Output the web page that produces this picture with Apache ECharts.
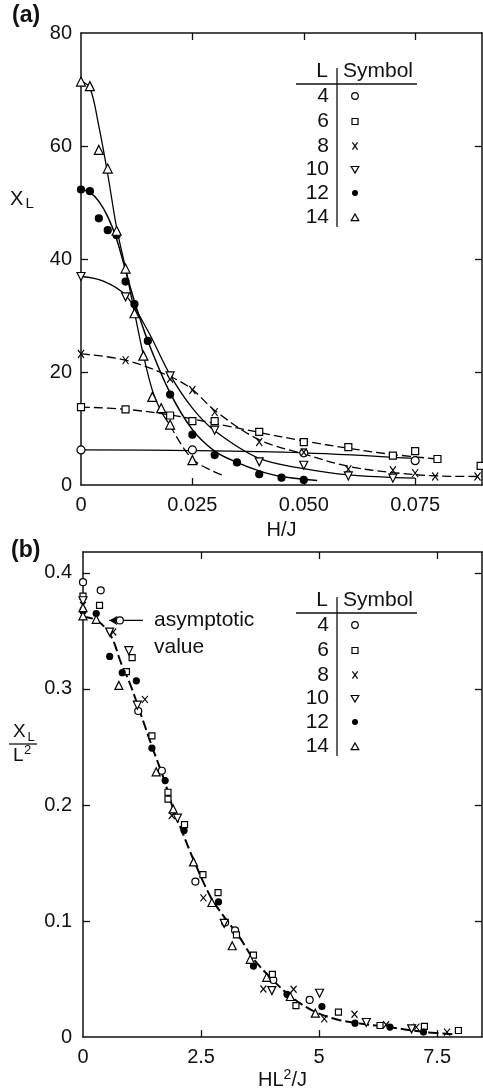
<!DOCTYPE html>
<html><head><meta charset="utf-8">
<script src="https://cdn.jsdelivr.net/npm/echarts@6/dist/echarts.min.js"></script>
<style>html,body{margin:0;padding:0;background:#fff}#c{width:483px;height:1091px}</style>
</head><body><div id="c"></div>
<script>
// ---------------- Panel (a): X_L vs H/J ----------------
const aL4  = [[0,6.2],[0.025,6.2],[0.05,5.7],[0.075,4.3]];
const aL6  = [[0,13.8],[0.01,13.4],[0.02,12.3],[0.025,11.3],[0.03,11.3],[0.04,9.4],[0.05,7.6],[0.06,6.7],[0.07,5.2],[0.075,6.0],[0.08,4.6],[0.0897,3.4]];
const aL8  = [[0,23.2],[0.01,22.1],[0.02,18.8],[0.025,16.8],[0.03,12.9],[0.04,7.6],[0.05,5.8],[0.06,2.8],[0.07,2.6],[0.075,2.1],[0.0795,1.5],[0.089,1.5]];
const aL10 = [[0,36.9],[0.01,33.3],[0.02,19.3],[0.03,9.7],[0.04,4.1],[0.05,3.5],[0.06,1.6],[0.07,1.2]];
const aL12 = [[0,52.3],[0.002,52.0],[0.004,47.2],[0.006,45.1],[0.008,44.2],[0.010,36.0],[0.012,32.0],[0.015,25.5],[0.02,16.0],[0.025,8.9],[0.03,5.3],[0.035,4.0],[0.04,1.9],[0.045,1.3],[0.05,0.9]];
const aL14 = [[0,71.4],[0.002,70.6],[0.004,59.3],[0.006,56.0],[0.008,45.0],[0.010,38.3],[0.012,30.4],[0.014,22.9],[0.016,15.6],[0.018,13.6],[0.02,10.7],[0.025,4.4]];

// fitted curves
const fitA4   = [[0,6.2],[0.025,6.1],[0.05,5.7],[0.075,4.7]];
const fitA6   = [[0,13.8],[0.01,13.4],[0.02,12.4],[0.03,10.9],[0.04,9.3],[0.05,7.8],[0.06,6.5],[0.07,5.4],[0.08,4.6]];
const fitA8   = [[0,23.2],[0.01,22.1],[0.02,19.2],[0.025,16.9],[0.03,13.2],[0.04,8.0],[0.05,5.5],[0.06,3.3],[0.07,2.2],[0.08,1.6],[0.09,1.5]];
const fitA10  = [[0,36.9],[0.005,36.1],[0.01,33.6],[0.015,27.3],[0.02,19.5],[0.025,13.6],[0.03,9.6],[0.04,4.7],[0.05,2.9],[0.06,1.8],[0.075,1.2]];
const fitA12  = [[0,52.3],[0.002,51.8],[0.004,50.2],[0.006,47.5],[0.008,43.5],[0.010,38.0],[0.012,32.5],[0.015,25.5],[0.02,16.3],[0.025,9.8],[0.03,6.0],[0.035,4.0],[0.04,2.5],[0.045,1.5],[0.053,0.8]];
const fitA14  = [[0,71.5],[0.002,70.3],[0.004,63.5],[0.006,55.0],[0.008,45.5],[0.010,38.3],[0.012,30.6],[0.014,23.0],[0.016,16.8],[0.018,13.0],[0.020,10.6]];
const fitA14t = [[0.020,10.6],[0.025,4.6],[0.0316,1.8]];

const aXTicks = [0.025,0.05,0.075];
const aXLabels = [0,0.025,0.05,0.075];
const aYTicks = [20,40,60];
const aYLabels = [0,20,40,60,80];

// ---------------- Panel (b): X_L/L^2 vs HL^2/J ----------------
const bL4  = [[0,0.392],[0.375,0.385],[0.78,0.359],[1.17,0.281],[1.67,0.2295],[2.38,0.134],[3.01,0.0987],[3.22,0.092],[4.03,0.0492],[4.80,0.032]];
const bL6  = [[0,0.380],[0.35,0.372],[1.04,0.327],[0.92,0.315],[1.46,0.2595],[1.80,0.211],[1.80,0.205],[2.15,0.183],[2.54,0.140],[2.86,0.1245],[3.25,0.088],[3.61,0.0707],[4.01,0.054],[4.51,0.0272],[5.41,0.0215],[6.29,0.010],[7.23,0.0092],[7.95,0.0057]];
const bL8  = [[0,0.372],[0.64,0.349],[1.31,0.291],[1.88,0.191],[2.55,0.120],[3.82,0.0415],[4.46,0.0412],[5.11,0.0157],[5.75,0.0197],[6.42,0.0106],[7.06,0.0086],[7.71,0.0043]];
const bL10 = [[0,0.376],[0.565,0.349],[0.97,0.333],[1.15,0.286],[2.0,0.1886],[2.99,0.098],[4.0,0.0401],[5.01,0.0378],[6.0,0.0126],[6.96,0.0071]];
const bL12 = [[0,0.367],[0.28,0.365],[0.565,0.328],[0.83,0.314],[1.13,0.307],[1.46,0.249],[1.74,0.221],[2.14,0.178],[2.87,0.1165],[3.61,0.0612],[4.32,0.0369],[5.06,0.0263],[5.76,0.012],[6.5,0.0086],[7.21,0.0043]];
const bL14 = [[0,0.370],[0,0.363],[0.28,0.360],[0.76,0.303],[1.55,0.2286],[1.91,0.1966],[2.34,0.151],[2.73,0.116],[3.16,0.0787],[3.54,0.067],[3.89,0.0515],[4.39,0.035],[4.92,0.0206]];
const fitB = [[0,0.362],[0.3,0.359],[0.6,0.345],[0.8,0.323],[1.0,0.304],[1.2,0.281],[1.5,0.246],[1.7,0.224],[1.9,0.198],[2.1,0.177],[2.35,0.152],[2.7,0.121],[3.0,0.103],[3.3,0.087],[3.6,0.068],[4.0,0.050],[4.4,0.035],[4.9,0.022],[5.4,0.015],[5.9,0.0115],[6.5,0.0085],[7.2,0.0045],[7.9,0.0022]];
const asymArrow = [[1.27,0.359],[0.56,0.359]];

const bXTicks = [2.5,5,7.5];
const bXLabels = [0,2.5,5,7.5];
const bYTicks = [0.1,0.2,0.3,0.4];
const bYLabels = [0,0.1,0.2,0.3,0.4];

const legendL = ['4','6','8','10','12','14'];

// ---------------- rendering ----------------
const FONT = '"Liberation Sans", Arial, Helvetica, sans-serif';
const BLACK = '#111';
const chart = echarts.init(document.getElementById('c'));

const X_PATH = 'path://M0,0L10,13M10,0L0,13';
const mk = {
  4:  {symbol:'circle', color:'#fff', a:8, b:7},
  6:  {symbol:'rect', color:'#fff', a:7, b:6},
  8:  {symbol:X_PATH, color:'none', a:[6,8], b:[6,7]},
  10: {symbol:'triangle', rot:180, color:'#fff', a:8, b:8},
  12: {symbol:'circle', color:'#000', a:7, b:6},
  14: {symbol:'triangle', color:'#fff', a:9, b:8}
};
function scatter(data, L, panel) {
  const m = mk[L];
  const ax = panel === 'a' ? 0 : 2;
  return {type:'scatter', xAxisIndex:ax, yAxisIndex:ax, data, symbol:m.symbol,
    symbolSize: panel === 'a' ? m.a : m.b, symbolRotate: m.rot || 0,
    itemStyle:{color:m.color, borderColor:'#000', borderWidth:1.2, opacity:1},
    z:5, silent:true, animation:false, clip:false};
}
function curve(data, panel, dash, width) {
  const ax = panel === 'a' ? 0 : 2;
  return {type:'line', xAxisIndex:ax, yAxisIndex:ax, data, smooth:0.35,
    showSymbol:false, symbol:'none', lineStyle:{color:'#000', width:width, type:dash},
    z:3, silent:true, animation:false};
}

const axLine = {show:true, onZero:false, lineStyle:{color:BLACK, width:1.5}};
const lab = {color:BLACK, fontSize:20, fontFamily:FONT};
function xAx(grid, pos, min, max, ticks, labels, fmt, name, gap) {
  return {type:'value', gridIndex:grid, position:pos, min, max,
    axisLine:axLine, splitLine:{show:false},
    axisTick:{show:true, inside:true, length:7, lineStyle:{color:BLACK, width:1.3}, customValues:ticks},
    axisLabel: labels ? Object.assign({margin:10, customValues:labels, formatter:fmt}, lab) : {show:false},
    name: name || '', nameLocation:'middle', nameGap: gap || 0,
    nameTextStyle:{color:BLACK, fontSize:20, fontFamily:FONT,
      rich:{n:{fontSize:20, fontFamily:FONT, color:BLACK, verticalAlign:'bottom', lineHeight:22},
            s:{fontSize:14, fontFamily:FONT, color:BLACK, verticalAlign:'top', lineHeight:14}}}};
}
function yAx(grid, pos, min, max, ticks, labels, fmt, margin) {
  return {type:'value', gridIndex:grid, position:pos, min, max,
    axisLine:axLine, splitLine:{show:false},
    axisTick:{show:true, inside:true, length:7, lineStyle:{color:BLACK, width:1.3}, customValues:ticks},
    axisLabel: labels ? Object.assign({margin:margin, customValues:labels, formatter:fmt}, lab) : {show:false}};
}

function T(text, x, y, size, opts) {
  opts = opts || {};
  return {type:'text', x, y, silent:true, style:{text, fill:BLACK,
    font:(opts.bold?'bold ':'') + size + 'px ' + FONT,
    align:opts.align||'left', textAlign:opts.align||'left',
    verticalAlign:'middle', textVerticalAlign:'middle'}};
}
function Ln(x1,y1,x2,y2,w) {
  return {type:'line', silent:true, shape:{x1,y1,x2,y2}, style:{stroke:BLACK, lineWidth:w||1.2}};
}
function legendSym(L, x, y) {
  const st = {stroke:'#000', lineWidth:1.2, fill:'#fff'};
  switch (L) {
    case '4': return [{type:'circle', silent:true, shape:{cx:x, cy:y, r:3.3}, style:st}];
    case '6': return [{type:'rect', silent:true, shape:{x:x-3, y:y-3, width:6, height:6}, style:st}];
    case '8': return [Ln(x-2.6,y-3.6,x+2.6,y+3.6,1.3), Ln(x+2.6,y-3.6,x-2.6,y+3.6,1.3)];
    case '10': return [{type:'polygon', silent:true, shape:{points:[[x-3.8,y-3],[x+3.8,y-3],[x,y+3.6]]}, style:st}];
    case '12': return [{type:'circle', silent:true, shape:{cx:x, cy:y, r:3}, style:{fill:'#000'}}];
    case '14': return [{type:'polygon', silent:true, shape:{points:[[x-3.8,y+3.2],[x+3.8,y+3.2],[x,y-3.6]]}, style:st}];
  }
}
function legendTable(dy, rows) {
  const els = [];
  els.push(T('L', 328, 71.5+dy, 21, {align:'right'}));
  els.push(T('Symbol', 343, 71.5+dy, 21));
  els.push(Ln(296, 84+dy, 417, 84+dy, 1.3));
  els.push(Ln(337, 68+dy, 337, 227+dy, 1.3));
  legendL.forEach((L, i) => {
    const y = rows[i] + dy;
    els.push(T(L, 329, y, 21, {align:'right'}));
    legendSym(L, 355, y).forEach(e => els.push(e));
  });
  return els;
}
const rowsY = [96, 121.5, 146, 169.5, 193, 217.5];

const graphic = [
  T('(a)', 12, 16, 23, {bold:true}),
  T('(b)', 11, 551, 23, {bold:true}),
  T('X', 10, 199, 20),
  T('L', 25.5, 203.5, 15),
  T('X', 13, 731.5, 19),
  T('L', 27.5, 737, 13),
  Ln(9, 744, 37, 744, 1.3),
  T('L', 13, 755.5, 19),
  T('2', 24, 750, 13),
  T('asymptotic', 154, 620, 21),
  T('value', 154, 647, 21)
].concat(legendTable(0, rowsY), legendTable(529, rowsY));

const option = {
  backgroundColor:'#fff',
  animation:false,
  grid:[
    {left:81, top:33, width:401, height:452, containLabel:false},
    {left:83, top:552, width:399, height:487, containLabel:false}
  ],
  xAxis:[
    xAx(0,'bottom',0,0.09,aXTicks,aXLabels,v=> v===0?'0':v.toFixed(3),'H/J',35),
    xAx(0,'top',0,0.09,aXTicks,null),
    xAx(1,'bottom',0,8.45,bXTicks,bXLabels,v=> String(v),'{n|HL}{s|2}{n|/J}',29),
    xAx(1,'top',0,8.45,bXTicks,null)
  ],
  yAxis:[
    yAx(0,'left',0,80,aYTicks,aYLabels,v=>String(v),9),
    yAx(0,'right',0,80,aYTicks,null),
    yAx(1,'left',0,0.418,bYTicks,bYLabels,v=> v===0?'0':v.toFixed(1),11),
    yAx(1,'right',0,0.418,bYTicks,null)
  ],
  series:[
    curve(fitA4,'a','solid',1.3),
    curve(fitA6,'a',[9,4],1.3),
    curve(fitA8,'a',[9,4],1.3),
    curve(fitA10,'a','solid',1.3),
    curve(fitA12,'a','solid',1.5),
    curve(fitA14,'a','solid',1.3),
    curve(fitA14t,'a',[9,4],1.3),
    scatter(aL4,4,'a'), scatter(aL6,6,'a'), scatter(aL8,8,'a'),
    scatter(aL10,10,'a'), scatter(aL12,12,'a'), scatter(aL14,14,'a'),
    curve(fitB,'b',[10,4],2),
    {type:'line', xAxisIndex:2, yAxisIndex:2, data:asymArrow, showSymbol:false, symbol:'none',
     lineStyle:{color:'#000', width:1.2}, z:2, silent:true, animation:false,
     markLine:{silent:true, symbol:['none','arrow'], symbolSize:[7,8], animation:false,
       lineStyle:{color:'#000', width:1.2, type:'solid'}, label:{show:false},
       data:[[{coord:asymArrow[0]},{coord:asymArrow[1]}]]}},
    scatter(bL4,4,'b'), scatter(bL6,6,'b'), scatter(bL8,8,'b'),
    scatter(bL10,10,'b'), scatter(bL12,12,'b'), scatter(bL14,14,'b')
  ],
  graphic
};
chart.setOption(option);
</script></body></html>
